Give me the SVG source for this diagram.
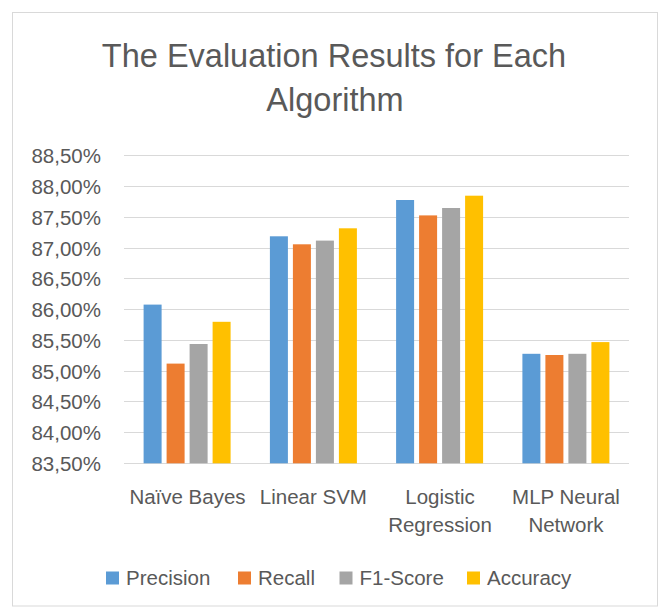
<svg xmlns="http://www.w3.org/2000/svg" width="661" height="608" viewBox="0 0 661 608">
<style>
text{font-family:"Liberation Sans",Arial,sans-serif;fill:#595959}
.t{font-size:32.5px;text-anchor:middle}
.ax{font-size:20.5px;text-anchor:end}
.cat{font-size:20.5px;text-anchor:middle}
.lg{font-size:20.5px}
.g{stroke:#D9D9D9;stroke-width:1;fill:none}
.p{fill:#5B9BD5}.r{fill:#ED7D31}.f{fill:#A5A5A5}.a{fill:#FFC000}
</style>
<rect x="0" y="0" width="661" height="608" fill="#fff"/>
<rect id="chart-border" x="12.5" y="12.5" width="645" height="593.5" fill="#fff" stroke="#D9D9D9" stroke-width="1"/>
<g id="title">
<text class="t" x="334" y="66.5">The Evaluation Results for Each</text>
<text class="t" x="335" y="111">Algorithm</text>
</g>
<g id="gridlines" class="g">
<line x1="124" y1="155.5" x2="629" y2="155.5"/>
<line x1="124" y1="186.5" x2="629" y2="186.5"/>
<line x1="124" y1="217.5" x2="629" y2="217.5"/>
<line x1="124" y1="248.5" x2="629" y2="248.5"/>
<line x1="124" y1="278.5" x2="629" y2="278.5"/>
<line x1="124" y1="309.5" x2="629" y2="309.5"/>
<line x1="124" y1="340.5" x2="629" y2="340.5"/>
<line x1="124" y1="371.5" x2="629" y2="371.5"/>
<line x1="124" y1="401.5" x2="629" y2="401.5"/>
<line x1="124" y1="432.5" x2="629" y2="432.5"/>
<line x1="124" y1="463.5" x2="629" y2="463.5"/>
</g>
<g id="y-axis">
<text class="ax" x="101" y="163">88,50%</text>
<text class="ax" x="101" y="194">88,00%</text>
<text class="ax" x="101" y="225">87,50%</text>
<text class="ax" x="101" y="255.5">87,00%</text>
<text class="ax" x="101" y="286">86,50%</text>
<text class="ax" x="101" y="317">86,00%</text>
<text class="ax" x="101" y="348">85,50%</text>
<text class="ax" x="101" y="378.5">85,00%</text>
<text class="ax" x="101" y="409">84,50%</text>
<text class="ax" x="101" y="440">84,00%</text>
<text class="ax" x="101" y="471">83,50%</text>
</g>
<g id="bars-naive-bayes">
<rect class="p" x="143.6" y="304.6" width="18" height="158.7"/>
<rect class="r" x="166.6" y="363.6" width="18" height="99.7"/>
<rect class="f" x="189.6" y="344.0" width="18" height="119.3"/>
<rect class="a" x="212.6" y="321.8" width="18" height="141.5"/>
</g>
<g id="bars-linear-svm">
<rect class="p" x="269.9" y="236.3" width="18" height="227.0"/>
<rect class="r" x="292.9" y="244.3" width="18" height="219.0"/>
<rect class="f" x="315.9" y="240.6" width="18" height="222.7"/>
<rect class="a" x="338.9" y="228.3" width="18" height="235.0"/>
</g>
<g id="bars-logistic-regression">
<rect class="p" x="396.1" y="200.0" width="18" height="263.3"/>
<rect class="r" x="419.1" y="215.4" width="18" height="247.9"/>
<rect class="f" x="442.1" y="208.0" width="18" height="255.3"/>
<rect class="a" x="465.1" y="195.7" width="18" height="267.6"/>
</g>
<g id="bars-mlp">
<rect class="p" x="522.4" y="353.8" width="18" height="109.5"/>
<rect class="r" x="545.4" y="355.0" width="18" height="108.3"/>
<rect class="f" x="568.4" y="353.8" width="18" height="109.5"/>
<rect class="a" x="591.4" y="342.1" width="18" height="121.2"/>
</g>
<g id="x-axis">
<text class="cat" x="187.5" y="503.5">Naïve Bayes</text>
<text class="cat" x="313.4" y="503.5">Linear SVM</text>
<text class="cat" x="440" y="503.5">Logistic</text>
<text class="cat" x="440" y="532">Regression</text>
<text class="cat" x="566" y="503.5">MLP Neural</text>
<text class="cat" x="566" y="532">Network</text>
</g>
<g id="legend">
<rect class="p" x="106" y="571.5" width="13" height="13"/>
<text class="lg" x="126" y="584.5">Precision</text>
<rect class="r" x="238" y="571.5" width="13" height="13"/>
<text class="lg" x="258" y="584.5">Recall</text>
<rect class="f" x="339.5" y="571.5" width="13" height="13"/>
<text class="lg" x="359.5" y="584.5">F1-Score</text>
<rect class="a" x="467" y="571.5" width="13" height="13"/>
<text class="lg" x="487" y="584.5">Accuracy</text>
</g>
</svg>
